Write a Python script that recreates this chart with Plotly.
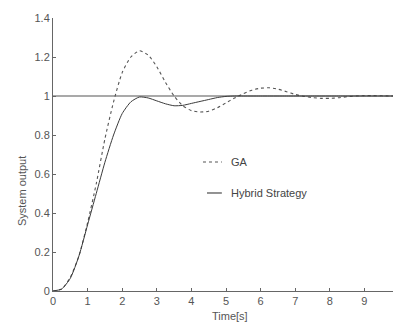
import plotly.graph_objects as go

t = [0, 0.25, 0.5, 0.75, 1.0, 1.25, 1.5, 1.75, 2.0, 2.25, 2.5, 2.75, 3.0, 3.25, 3.5, 3.75,
     4.0, 4.25, 4.5, 4.75, 5.0, 5.25, 5.5, 5.75, 6.0, 6.25, 6.5, 6.75, 7.0, 7.25, 7.5, 7.75,
     8.0, 8.25, 8.5, 8.75, 9.0, 9.25, 9.5, 9.75, 10.0]

ga = [0, 0.01, 0.07, 0.18, 0.35, 0.55, 0.78, 0.97, 1.12, 1.20, 1.232, 1.21, 1.15, 1.07, 1.0, 0.95,
      0.925, 0.918, 0.922, 0.94, 0.965, 0.99, 1.012, 1.03, 1.04, 1.042, 1.035, 1.022, 1.008, 0.998, 0.992, 0.988,
      0.988, 0.991, 0.996, 1.0, 1.002, 1.002, 1.001, 1.0, 1.0]

hybrid = [0, 0.01, 0.065, 0.18, 0.34, 0.50, 0.66, 0.80, 0.91, 0.97, 0.995, 0.99, 0.975, 0.96, 0.95, 0.952,
          0.962, 0.972, 0.982, 0.992, 0.998, 1.0, 1.0, 1.0, 1.0, 1.0, 1.0, 1.0, 1.0, 1.0, 1.0, 1.0,
          1.0, 1.0, 1.0, 1.0, 1.0, 1.0, 1.0, 1.0, 1.0]

reference = [1.0, 1.0]
ref_t = [0, 10]

x_ticks = [0, 1, 2, 3, 4, 5, 6, 7, 8, 9, 10]
y_ticks = [0, 0.2, 0.4, 0.6, 0.8, 1, 1.2, 1.4]
y_tick_text = ["0", "0.2", "0.4", "0.6", "0.8", "1", "1.2", "1.4"]

FONT = "Liberation Sans, Arial"
GREY = "#555555"

fig = go.Figure()
fig.add_trace(go.Scatter(x=ref_t, y=reference, mode="lines", showlegend=False,
                         line=dict(color="#555555", width=1.2)))
fig.add_trace(go.Scatter(x=t, y=ga, mode="lines", name="GA", showlegend=False,
                         line=dict(color="#555555", width=1.1, dash="3px,3px", shape="spline", smoothing=0.6)))
fig.add_trace(go.Scatter(x=t, y=hybrid, mode="lines", name="Hybrid Strategy", showlegend=False,
                         line=dict(color="#3a3a3a", width=1.0, shape="spline", smoothing=0.6)))

axis_common = dict(showgrid=False, zeroline=False, showline=True, linecolor="#666666", linewidth=1,
                   ticks="inside", ticklen=3, tickcolor="#666666", automargin=False,
                   tickfont=dict(family=FONT, size=11, color=GREY))

fig.update_xaxes(range=[0, 10], tickvals=x_ticks, ticklabeloverflow="allow", **axis_common)
fig.update_yaxes(range=[0, 1.4], tickvals=y_ticks, ticktext=y_tick_text, **axis_common)

# manual legend (no frame), placed like the reference
fig.add_shape(type="line", xref="paper", yref="paper", x0=0.4335, x1=0.488, y0=0.4725, y1=0.4725,
              line=dict(color="#555555", width=1.1, dash="3px,3px"))
fig.add_shape(type="line", xref="paper", yref="paper", x0=0.445, x1=0.488, y0=0.359, y1=0.359,
              line=dict(color="#3a3a3a", width=1.1))
fig.add_annotation(text="GA", xref="paper", yref="paper", x=0.509, y=0.4725, xanchor="left",
                   yanchor="middle", showarrow=False, font=dict(family=FONT, size=11, color="#444444"))
fig.add_annotation(text="Hybrid Strategy", xref="paper", yref="paper", x=0.509, y=0.359, xanchor="left",
                   yanchor="middle", showarrow=False, font=dict(family=FONT, size=11, color="#444444"))

# axis titles
fig.add_annotation(text="System output", xref="paper", yref="paper", x=-0.0896, y=0.366, textangle=-90,
                   xanchor="center", yanchor="middle", showarrow=False, font=dict(family=FONT, size=11, color=GREY))
fig.add_annotation(text="Time[s]", xref="paper", yref="paper", x=0.512, y=-0.0916,
                   xanchor="center", yanchor="middle", showarrow=False, font=dict(family=FONT, size=11, color=GREY))

# the page body has an 8px default margin, so the figure is sized to fit the 401x323 window
fig.update_layout(
    width=393, height=315,
    margin=dict(l=45, r=2, t=10, b=32),
    paper_bgcolor="white", plot_bgcolor="white",
    showlegend=False,
)

fig.write_html("out.html")
